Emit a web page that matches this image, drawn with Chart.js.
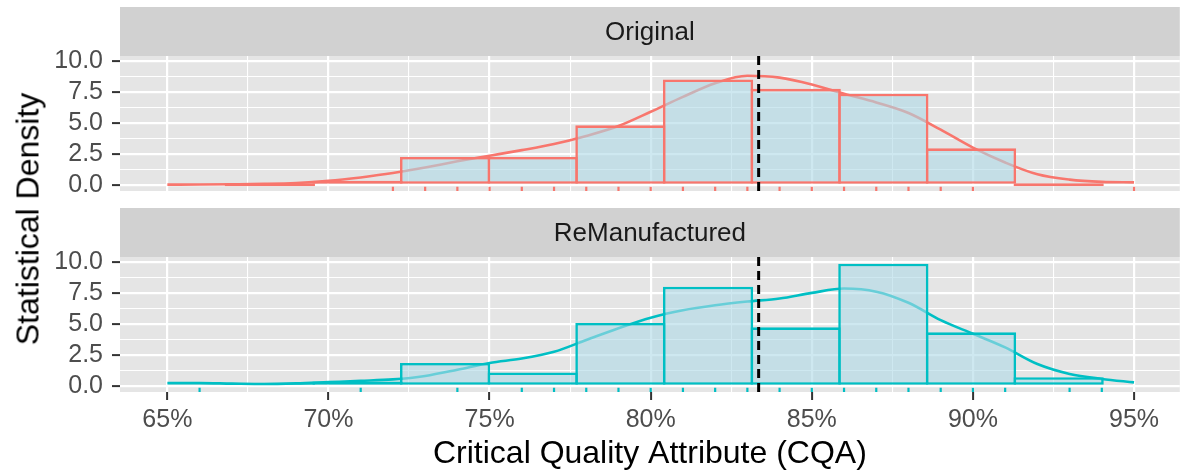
<!DOCTYPE html>
<html>
<head>
<meta charset="utf-8">
<script src="https://cdn.jsdelivr.net/npm/chart.js@4.4.1/dist/chart.umd.min.js"></script>
<style>
  body { margin: 0; background: #ffffff; }
  #wrap { position: relative; width: 1186px; height: 473px; overflow: hidden; }
  canvas { position: absolute; left: 0; }
  #ytitle {
    position: absolute; left: 28px; top: 219px;
    transform: translate(-50%, -50%) rotate(-90deg);
    font-family: "Liberation Sans", Arial, sans-serif; font-size: 32px;
    color: #000; white-space: nowrap;
  }
</style>
</head>
<body>
<div id="wrap">
  <canvas id="original-chart" width="1186" height="200" style="top:0px"></canvas>
  <canvas id="reman-chart" width="1186" height="273" style="top:200px"></canvas>
  <div id="ytitle">Statistical Density</div>
</div>
<script>
// histogram bins (centre of each bin, in %)
var binCenters = [68.18, 70.90, 73.62, 76.34, 79.06, 81.78, 84.50, 87.22, 89.94, 92.66];
var originalHist = [0, 0.33, 2.25, 2.25, 4.8, 8.5, 7.75, 7.35, 2.95, 0];
var remanHist = [0.08, 0.36, 1.85, 1.08, 5.07, 8.0, 4.72, 9.85, 4.32, 0.7];

// density curves
var densityX = [65, 66, 67, 68, 69, 70, 71, 72, 73, 74, 75, 76, 77, 78, 79, 80,
                81, 82, 83, 84, 85, 86, 87, 88, 89, 90, 91, 92, 93, 94, 95];
var originalDensity = [0.02, 0.03, 0.05, 0.08, 0.15, 0.32, 0.6, 0.95, 1.4, 1.9, 2.35, 2.8, 3.3, 3.95, 4.75, 5.9,
                       7.1, 8.2, 8.8, 8.65, 8.1, 7.35, 6.65, 5.8, 4.45, 3.0, 1.8, 0.85, 0.42, 0.24, 0.2];
var remanDensity = [0.22, 0.22, 0.18, 0.15, 0.2, 0.3, 0.4, 0.52, 0.8, 1.3, 1.85, 2.2, 2.75, 3.7, 4.65, 5.5,
                    6.1, 6.5, 6.8, 7.05, 7.5, 7.85, 7.6, 6.7, 5.3, 4.2, 3.1, 1.76, 0.96, 0.56, 0.28];

// rug (observed values)
var originalRug = [72, 73, 74, 75, 76, 77, 78, 79, 80, 81, 82, 83, 84, 85, 86, 87, 88, 89, 90, 95];
var remanRug = [66, 71, 74, 76, 77, 78, 79, 80, 81, 82, 83, 84, 85, 86, 87, 88, 89, 90, 91, 93, 94];

var meanCQA = 83.35;

// axis ticks
var xTicks = [65, 70, 75, 80, 85, 90, 95];
var yTicks = [0, 2.5, 5, 7.5, 10];

var xMin = 63.53, xMax = 96.42;
var yMin = -0.495, yMax = 10.395;
var FONT = '"Liberation Sans", Arial, sans-serif';

Chart.defaults.font.family = FONT;

function withMinor(ticks) {
    var out = [];
    for (var i = 0; i < ticks.length; i++) {
        out.push(ticks[i]);
        if (i < ticks.length - 1) out.push((ticks[i] + ticks[i + 1]) / 2);
    }
    return out;
}
function isMajor(list, v) {
    return list.indexOf(v) >= 0;
}

// grey panel + facet strip
var facetPlugin = {
    id: 'facet',
    beforeDraw: function (chart, args, opts) {
        var ctx = chart.ctx, a = chart.chartArea;
        ctx.save();
        ctx.fillStyle = '#E5E5E5';
        ctx.fillRect(a.left, a.top, a.right - a.left, a.bottom - a.top);
        ctx.fillStyle = '#D1D1D1';
        ctx.fillRect(a.left, a.top - 49, a.right - a.left, 49);
        ctx.fillStyle = '#1A1A1A';
        ctx.font = '26px ' + FONT;
        ctx.textAlign = 'center';
        ctx.textBaseline = 'middle';
        ctx.fillText(opts.label, (a.left + a.right) / 2, a.top - 23);
        ctx.restore();
    }
};

function makeChart(id, label, hist, dens, rug, color, showX, padding) {
    var histPts = binCenters.map(function (x, i) { return {x: x, y: hist[i]}; });
    var densPts = densityX.map(function (x, i) { return {x: x, y: dens[i]}; });
    var rugPts = rug.map(function (x) { return {x: x, y: yMin + 0.17}; });

    return new Chart(document.getElementById(id), {
        type: 'bar',
        data: {
            datasets: [
                {
                    type: 'line',
                    data: [{x: meanCQA, y: yMin}, {x: meanCQA, y: yMax}],
                    borderColor: '#000000',
                    borderWidth: 3,
                    borderDash: [9, 5],
                    pointRadius: 0,
                    order: 0
                },
                {
                    type: 'scatter',
                    data: rugPts,
                    pointStyle: 'line',
                    rotation: 90,
                    radius: 2.2,
                    borderWidth: 2.2,
                    borderColor: color,
                    backgroundColor: color,
                    order: 0
                },
                {
                    type: 'bar',
                    data: histPts,
                    backgroundColor: 'rgba(173,216,230,0.6)',
                    borderColor: color,
                    borderWidth: 2.6,
                    borderSkipped: false,
                    inflateAmount: 0,
                    minBarLength: 3,
                    barThickness: 'flex',
                    barPercentage: 1.03,
                    categoryPercentage: 1,
                    order: 1
                },
                {
                    type: 'line',
                    data: densPts,
                    borderColor: color,
                    borderWidth: 2.6,
                    pointRadius: 0,
                    cubicInterpolationMode: 'monotone',
                    order: 2
                }
            ]
        },
        options: {
            responsive: false,
            animation: false,
            devicePixelRatio: 1,
            layout: {padding: padding},
            plugins: {
                legend: {display: false},
                tooltip: {enabled: false},
                facet: {label: label}
            },
            scales: {
                x: {
                    type: 'linear',
                    min: xMin,
                    max: xMax,
                    offset: false,
                    afterBuildTicks: function (s) {
                        s.ticks = withMinor(xTicks).map(function (v) { return {value: v}; });
                    },
                    afterFit: function (s) {
                        s.height = showX ? 81 : 0;
                        s.paddingLeft = 0; s.paddingRight = 0;
                    },
                    border: {display: false},
                    grid: {
                        offset: false,
                        drawTicks: showX,
                        tickLength: 8,
                        tickWidth: 2,
                        tickColor: function (c) { return isMajor(xTicks, c.tick.value) ? '#333333' : 'rgba(0,0,0,0)'; },
                        color: '#FFFFFF',
                        lineWidth: function (c) { return isMajor(xTicks, c.tick.value) ? 2.2 : 1.1; }
                    },
                    ticks: {
                        display: showX,
                        autoSkip: false,
                        maxRotation: 0,
                        padding: 5,
                        color: '#4D4D4D',
                        font: {size: 25},
                        callback: function (v) { return isMajor(xTicks, v) ? v + '%' : ''; }
                    },
                    title: {
                        display: showX,
                        text: 'Critical Quality Attribute (CQA)',
                        color: '#000000',
                        font: {size: 32},
                        padding: {top: 0, bottom: 0}
                    }
                },
                y: {
                    type: 'linear',
                    min: yMin,
                    max: yMax,
                    afterBuildTicks: function (s) {
                        s.ticks = withMinor(yTicks).map(function (v) { return {value: v}; });
                    },
                    afterFit: function (s) {
                        s.width = 120;
                        s.paddingTop = 0; s.paddingBottom = 0;
                    },
                    border: {display: false},
                    grid: {
                        tickLength: 8,
                        tickWidth: 2,
                        tickColor: function (c) { return isMajor(yTicks, c.tick.value) ? '#333333' : 'rgba(0,0,0,0)'; },
                        color: '#FFFFFF',
                        lineWidth: function (c) { return isMajor(yTicks, c.tick.value) ? 2.2 : 1.1; }
                    },
                    ticks: {
                        autoSkip: false,
                        padding: 9,
                        color: '#4D4D4D',
                        font: {size: 25},
                        callback: function (v) { return isMajor(yTicks, v) ? v.toFixed(1) : ''; }
                    }
                }
            }
        },
        plugins: [facetPlugin]
    });
}

makeChart('original-chart', 'Original', originalHist, originalDensity, originalRug,
          '#F8766D', false, {top: 56, bottom: 9, left: 0, right: 0});
makeChart('reman-chart', 'ReManufactured', remanHist, remanDensity, remanRug,
          '#00BFC4', true, {top: 57, bottom: 0, left: 0, right: 0});
</script>
</body>
</html>
